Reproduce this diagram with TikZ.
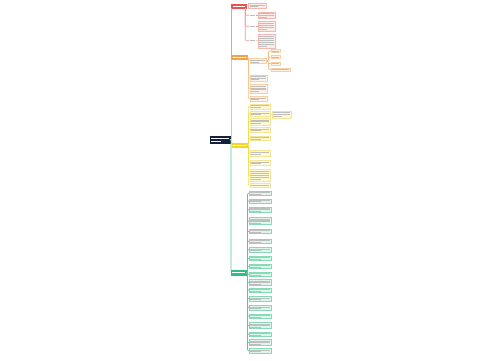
\documentclass[tikz,border=0pt]{standalone}
\usepackage{xcolor}
\definecolor{navy}{HTML}{15213A}
\definecolor{redL}{HTML}{E8554E}
\definecolor{redF}{HTML}{FDEDE8}
\definecolor{redB}{HTML}{F4B7B0}
\definecolor{redC}{HTML}{F09A94}
\definecolor{orL}{HTML}{F0A14A}
\definecolor{orF}{HTML}{FEF3E6}
\definecolor{orB}{HTML}{F7CFA2}
\definecolor{orC}{HTML}{F5BF85}
\definecolor{yeL}{HTML}{F5D327}
\definecolor{yeF}{HTML}{FEF9D6}
\definecolor{yeB}{HTML}{F5E494}
\definecolor{yeC}{HTML}{F2D955}
\definecolor{grL}{HTML}{2FBF86}
\definecolor{grF}{HTML}{DDF5EA}
\definecolor{grB}{HTML}{86DAB5}
\definecolor{grC}{HTML}{55C79A}
\tikzset{
  base/.style={inner sep=0pt, outer sep=0pt, line width=0.4pt},
  rootbox/.style={base, fill=navy, draw=navy},
  rlab/.style={base, fill=redL, draw=redL},
  olab/.style={base, fill=orL, draw=orL},
  ylab/.style={base, fill=yeL, draw=yeL},
  glab/.style={base, fill=grL, draw=grL},
  rbox/.style={base, fill=redF, draw=redB},
  obox/.style={base, fill=orF, draw=orB},
  ybox/.style={base, fill=yeF, draw=yeB},
  gbox/.style={base, fill=grF, draw=grB},
  plain/.style={base},
  wbar/.style={white, line width=0.55pt},
  gbar/.style={gray!50, line width=0.55pt},
  rl/.style={draw=redC, line width=0.6pt, rounded corners=1pt},
  ol/.style={draw=orC, line width=0.6pt, rounded corners=1pt},
  yl/.style={draw=yeC, line width=0.6pt, rounded corners=1pt},
  gl/.style={draw=grC, line width=0.6pt, rounded corners=1pt},
}
% name, x1, y1, x2, y2, lines, box style, bar style
\newcommand\TB[8]{%
  \node[#7, anchor=north west, minimum width={(#4-#2)*1pt}, minimum height={(#5-#3)*1pt}] (#1) at (#2,#3) {};
  \foreach \i in {1,...,#6}{%
    \pgfmathsetmacro\yy{#3+0.9+(\i-0.5)*(#5-#3-1.8)/#6}%
    \pgfmathsetmacro\xe{(\i==#6)*(#6>1) ? #2+1.2+0.55*(#4-#2-2.4) : #4-1.2}%
    \draw[#8] (#2+1.2,\yy) -- (\xe,\yy);
  }%
}
\begin{document}
\begin{tikzpicture}[x=1pt,y=-1pt]
\useasboundingbox (0,0) rectangle (500,360);
\fill[white] (0,0) rectangle (500,360);

% root
\TB{root}{210}{136.5}{230}{143}{2}{rootbox}{wbar}

% branch labels
\TB{lab1}{231.5}{4}{246}{8}{1}{rlab}{wbar}
\TB{lab2}{231.5}{55}{247}{59.5}{1}{olab}{wbar}
\TB{lab3}{232}{143}{247}{147.5}{1}{ylab}{wbar}
\TB{lab4}{231}{270.5}{246.5}{275}{1}{glab}{wbar}

% red branch
\TB{r0}{248.5}{3}{266}{8.5}{2}{rbox}{gbar}
\TB{r1t}{249}{14}{256}{16.5}{1}{plain}{gbar}
\TB{r1}{258}{12}{275}{18.5}{3}{rbox}{gbar}
\TB{r2t}{249}{25}{256}{27.5}{1}{plain}{gbar}
\TB{r2}{258}{21.5}{275}{31}{4}{rbox}{gbar}
\TB{r3t}{249}{39.5}{256}{42}{1}{plain}{gbar}
\TB{r3}{258}{34}{275}{48}{6}{rbox}{gbar}

% orange branch
\TB{o1}{250}{58.5}{266}{63.5}{2}{obox}{gbar}
\TB{o1a}{271}{49.5}{280}{52.5}{1}{obox}{gbar}
\TB{o1b}{271}{55.5}{280}{58.5}{1}{obox}{gbar}
\TB{o1c}{271}{62}{280}{65}{1}{obox}{gbar}
\TB{o1d}{271}{68}{290}{71}{1}{obox}{gbar}
\TB{o2}{250}{75}{267}{81}{3}{obox}{gbar}
\TB{o3}{250}{84.5}{267}{93}{4}{obox}{gbar}
\TB{o4}{250}{96.5}{267}{101}{2}{obox}{gbar}

% yellow branch
\TB{y1}{250}{104}{270}{109}{2}{ybox}{gbar}
\TB{y2}{250}{111.5}{270}{116}{2}{ybox}{gbar}
\TB{y2a}{272}{111}{291}{118}{3}{ybox}{gbar}
\TB{y3}{250}{118.5}{270}{125}{3}{ybox}{gbar}
\TB{y4}{250}{127.5}{270}{132}{2}{ybox}{gbar}
\TB{y5}{250}{136}{270}{140.5}{2}{ybox}{gbar}
\TB{y6}{250}{150.5}{270}{156}{2}{ybox}{gbar}
\TB{y7}{250}{160.5}{270}{165}{2}{ybox}{gbar}
\TB{y8}{250}{169.5}{270}{181.5}{5}{ybox}{gbar}
\TB{y9}{250}{183.5}{270}{187}{1}{ybox}{gbar}

% green branch
\TB{g1}{249}{191}{271}{195.5}{2}{gbox}{gbar}
\TB{g2}{249}{199}{271}{203}{2}{gbox}{gbar}
\TB{g3}{249}{207}{271}{212.5}{3}{gbox}{gbar}
\TB{g4}{249}{217.5}{271}{224.5}{4}{gbox}{gbar}
\TB{g5}{249}{229}{271}{233.5}{2}{gbox}{gbar}
\TB{g6}{249}{239}{271}{243.5}{2}{gbox}{gbar}
\TB{g7}{249}{247.5}{271}{252}{2}{gbox}{gbar}
\TB{g8}{249}{256}{271}{260.5}{2}{gbox}{gbar}
\TB{g9}{249}{264}{271}{268.5}{2}{gbox}{gbar}
\TB{g10}{249}{272}{271}{276.5}{2}{gbox}{gbar}
\TB{g11}{249}{279.5}{271}{285.5}{3}{gbox}{gbar}
\TB{g12}{249}{288}{271}{292.5}{2}{gbox}{gbar}
\TB{g13}{249}{296.5}{271}{301}{2}{gbox}{gbar}
\TB{g14}{249}{305.5}{271}{310}{2}{gbox}{gbar}
\TB{g15}{249}{314}{271}{318.5}{2}{gbox}{gbar}
\TB{g16}{249}{322.5}{271}{328.5}{3}{gbox}{gbar}
\TB{g17}{249}{332}{271}{336.5}{2}{gbox}{gbar}
\TB{g18}{249}{339.5}{271}{345.5}{3}{gbox}{gbar}
\TB{g19}{249}{348.5}{271}{353}{2}{gbox}{gbar}

% root to branches
\draw[rl] (root.east) -| (lab1.south west);
\draw[ol] (root.east) -| (lab2.south west);
\draw[yl] (root.east) -| (lab3.north west);
\draw[gl] (root.east) -| (lab4.north west);

% red connectors
\draw[rl] (lab1.east) -- (r0.west);
\foreach \c in {r1t,r2t,r3t}{\draw[rl] ([xshift=-0.8pt]lab1.south east) |- (\c.west);}
\foreach \a/\b in {r1t/r1,r2t/r2,r3t/r3}{\draw[rl] (\a.east) -- (\b.west);}

% orange connectors
\foreach \c in {o1,o2,o3,o4}{\draw[ol] (lab2.east) -- ++(1.3,0) |- (\c.west);}
\foreach \c in {o1a,o1b,o1c,o1d}{\draw[ol] (o1.east) -- ++(2.5,0) |- (\c.west);}

% yellow connectors
\foreach \c in {y1,y2,y3,y4,y5,y6,y7,y8,y9}{\draw[yl] (lab3.east) -- ++(1.3,0) |- (\c.west);}
\draw[yl] (y2.east) -- (y2a.west);

% green connectors
\foreach \c in {g1,g2,g3,g4,g5,g6,g7,g8,g9,g10,g11,g12,g13,g14,g15,g16,g17,g18,g19}{\draw[gl] (lab4.east) -- ++(1,0) |- (\c.west);}
\end{tikzpicture}
\end{document}
